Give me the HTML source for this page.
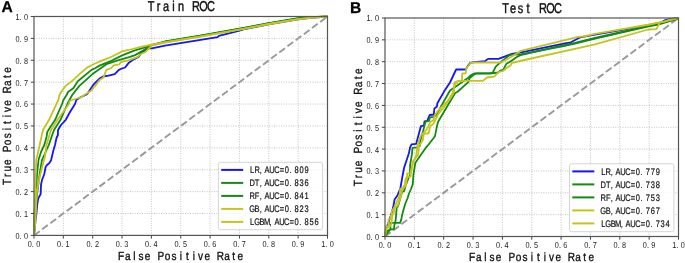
<!DOCTYPE html>
<html><head><meta charset="utf-8"><title>ROC</title>
<style>
html,body{margin:0;padding:0;background:#fff;}
body{width:685px;height:263px;overflow:hidden;}
svg{display:block;will-change:transform;text-rendering:geometricPrecision;font-family:"Liberation Sans", sans-serif;}
.grid{stroke:#b8b8b8;stroke-width:0.9;stroke-dasharray:0.9 1.5;}
.diag{stroke:#999;stroke-width:1.9;stroke-dasharray:7.1 3.1;}
.frame{fill:none;stroke:#555;stroke-width:1.2;}
.tick{stroke:#444;stroke-width:1.0;}
.leg{fill:#fff;fill-opacity:0.8;stroke:#d0d0d0;stroke-width:0.9;}
</style></head><body>
<svg width="685" height="263" viewBox="0 0 685 263">
<rect width="685" height="263" fill="#fff"/>
<line x1="63.35" y1="16.5" x2="63.35" y2="235.4" class="grid"/>
<line x1="34" y1="213.51" x2="327.5" y2="213.51" class="grid"/>
<line x1="92.7" y1="16.5" x2="92.7" y2="235.4" class="grid"/>
<line x1="34" y1="191.62" x2="327.5" y2="191.62" class="grid"/>
<line x1="122.05" y1="16.5" x2="122.05" y2="235.4" class="grid"/>
<line x1="34" y1="169.73" x2="327.5" y2="169.73" class="grid"/>
<line x1="151.4" y1="16.5" x2="151.4" y2="235.4" class="grid"/>
<line x1="34" y1="147.84" x2="327.5" y2="147.84" class="grid"/>
<line x1="180.75" y1="16.5" x2="180.75" y2="235.4" class="grid"/>
<line x1="34" y1="125.95" x2="327.5" y2="125.95" class="grid"/>
<line x1="210.1" y1="16.5" x2="210.1" y2="235.4" class="grid"/>
<line x1="34" y1="104.06" x2="327.5" y2="104.06" class="grid"/>
<line x1="239.45" y1="16.5" x2="239.45" y2="235.4" class="grid"/>
<line x1="34" y1="82.17" x2="327.5" y2="82.17" class="grid"/>
<line x1="268.8" y1="16.5" x2="268.8" y2="235.4" class="grid"/>
<line x1="34" y1="60.28" x2="327.5" y2="60.28" class="grid"/>
<line x1="298.15" y1="16.5" x2="298.15" y2="235.4" class="grid"/>
<line x1="34" y1="38.39" x2="327.5" y2="38.39" class="grid"/>
<line x1="34" y1="235.4" x2="327.5" y2="16.5" class="diag"/>
<polyline points="34,235.4 34.6,230 35.6,220 36.4,214 37.2,205 38,199.5 39,197 40.7,194 41,185 42,180 44.3,174 45.6,167 47,165 49.4,163 51.1,160.3 52.3,155 53.5,150 55,145 56.5,138 57.9,135 58,130 61,125 65.8,119.8 70,112 75,104 76.3,100 80,97.5 85.6,95 87.4,93.8 93.4,84.7 99.5,78.6 103,76.5 108.6,75.6 114.7,74.1 118.9,69.9 122,68.5 125.1,67.5 128.5,63.1 134.2,59.1 138.8,56.8 141.1,52.8 145.7,50.6 149.1,48.3 151.9,48.3 165,45.7 217.6,37.1 218.9,35.8 238.6,30.9 245,29 268.6,24.3 298.3,19.4 310.8,17.9 327.5,16.5" fill="none" stroke="#1515f5" stroke-width="1.8" stroke-linejoin="round" stroke-linecap="butt" />
<polyline points="34,235.4 35,215 37,195 39.5,175 42,160 48.8,145 52.2,135 54,130 60.5,119.8 67.4,104 69.5,100 72.2,95 79.4,85.9 93,73.7 95,72.2 106.4,64.2 117.8,60.3 130,56.9 135,55.1 139.5,52.6 145.2,49.3 150,45.5 160,43 165,41.7 200,35.9 245,27.9 268.6,23.3 298.3,18.4 310.8,17.3 327.5,16.5" fill="none" stroke="#138a13" stroke-width="1.8" stroke-linejoin="round" stroke-linecap="butt" />
<polyline points="34,235.4 34.5,215 35.5,195 37,175 38.5,160 41,152 44.3,145 46.5,137 47.3,132 51,126 55.2,119.8 62,104 63.4,100 66.6,95 68,92 73.3,88.2 77.8,81.3 91.5,69.9 95,68.2 100,65.4 111.4,60.8 122.8,55.1 134.2,50.6 145.7,47.1 150,45.3 165,41.5 200,35.7 245,27.7 268.6,23.1 298.3,18.2 310.8,17.2 327.5,16.5" fill="none" stroke="#138a13" stroke-width="1.8" stroke-linejoin="round" stroke-linecap="butt" />
<polyline points="34,235.4 34.8,228 35.6,218 36.2,205 36.6,195 37,190 38.3,184.2 40,175.7 42.2,167 44,160 44.6,158.6 46.5,145 49.4,135 51.1,130 57.5,119.8 68.9,104 69.6,101 75,99 81,97.3 85.4,94.2 91.5,90.4 97.6,82.8 99.6,80 103.5,77.4 106.4,69.9 111.4,68 113.7,65.4 119.4,64.3 121.1,62 128.5,60.3 137.7,56.8 141.1,54 145.7,51.7 151.9,45.5 165,42.5 200,36.7 245,28.7 268.6,24.1 298.3,19.2 310.8,17.8 327.5,16.5" fill="none" stroke="#c4c41e" stroke-width="1.8" stroke-linejoin="round" stroke-linecap="butt" />
<polyline points="34,235.4 34.5,215 35.2,195 35.6,175 36.3,160 39.7,145 41.8,135 43,130 49.1,119.8 56.4,104 58.3,100 59.5,95 61.1,92 65.7,85.9 71.7,81.3 81.6,72.2 87,67.6 94.6,63.8 100,61.4 111.4,56.8 122.8,51.1 128.5,50 140,47.1 150,44.8 165,42.4 200,36.6 245,28.6 268.6,24 298.3,19.1 310.8,17.7 327.5,16.5" fill="none" stroke="#c4c41e" stroke-width="1.8" stroke-linejoin="round" stroke-linecap="butt" />
<rect x="34" y="16.5" width="293.5" height="218.9" class="frame"/>
<line x1="30.8" y1="235.4" x2="34" y2="235.4" class="tick"/>
<line x1="34" y1="235.4" x2="34" y2="238.6" class="tick"/>
<text transform="scale(0.85,1)" x="20.56 24.21 30.56" y="238.8" font-size="8.6" font-weight="normal" fill="#222" text-anchor="middle" >0.0</text>
<text transform="scale(0.85,1)" x="35 38.65 45" y="247.3" font-size="8.6" font-weight="normal" fill="#222" text-anchor="middle" >0.0</text>
<line x1="30.8" y1="213.51" x2="34" y2="213.51" class="tick"/>
<line x1="63.35" y1="235.4" x2="63.35" y2="238.6" class="tick"/>
<text transform="scale(0.85,1)" x="20.56 24.21 30.56" y="216.91" font-size="8.6" font-weight="normal" fill="#222" text-anchor="middle" >0.1</text>
<text transform="scale(0.85,1)" x="69.53 73.18 79.53" y="247.3" font-size="8.6" font-weight="normal" fill="#222" text-anchor="middle" >0.1</text>
<line x1="30.8" y1="191.62" x2="34" y2="191.62" class="tick"/>
<line x1="92.7" y1="235.4" x2="92.7" y2="238.6" class="tick"/>
<text transform="scale(0.85,1)" x="20.56 24.21 30.56" y="195.02" font-size="8.6" font-weight="normal" fill="#222" text-anchor="middle" >0.2</text>
<text transform="scale(0.85,1)" x="104.06 107.71 114.06" y="247.3" font-size="8.6" font-weight="normal" fill="#222" text-anchor="middle" >0.2</text>
<line x1="30.8" y1="169.73" x2="34" y2="169.73" class="tick"/>
<line x1="122.05" y1="235.4" x2="122.05" y2="238.6" class="tick"/>
<text transform="scale(0.85,1)" x="20.56 24.21 30.56" y="173.13" font-size="8.6" font-weight="normal" fill="#222" text-anchor="middle" >0.3</text>
<text transform="scale(0.85,1)" x="138.59 142.24 148.59" y="247.3" font-size="8.6" font-weight="normal" fill="#222" text-anchor="middle" >0.3</text>
<line x1="30.8" y1="147.84" x2="34" y2="147.84" class="tick"/>
<line x1="151.4" y1="235.4" x2="151.4" y2="238.6" class="tick"/>
<text transform="scale(0.85,1)" x="20.56 24.21 30.56" y="151.24" font-size="8.6" font-weight="normal" fill="#222" text-anchor="middle" >0.4</text>
<text transform="scale(0.85,1)" x="173.12 176.77 183.12" y="247.3" font-size="8.6" font-weight="normal" fill="#222" text-anchor="middle" >0.4</text>
<line x1="30.8" y1="125.95" x2="34" y2="125.95" class="tick"/>
<line x1="180.75" y1="235.4" x2="180.75" y2="238.6" class="tick"/>
<text transform="scale(0.85,1)" x="20.56 24.21 30.56" y="129.35" font-size="8.6" font-weight="normal" fill="#222" text-anchor="middle" >0.5</text>
<text transform="scale(0.85,1)" x="207.65 211.3 217.65" y="247.3" font-size="8.6" font-weight="normal" fill="#222" text-anchor="middle" >0.5</text>
<line x1="30.8" y1="104.06" x2="34" y2="104.06" class="tick"/>
<line x1="210.1" y1="235.4" x2="210.1" y2="238.6" class="tick"/>
<text transform="scale(0.85,1)" x="20.56 24.21 30.56" y="107.46" font-size="8.6" font-weight="normal" fill="#222" text-anchor="middle" >0.6</text>
<text transform="scale(0.85,1)" x="242.18 245.83 252.18" y="247.3" font-size="8.6" font-weight="normal" fill="#222" text-anchor="middle" >0.6</text>
<line x1="30.8" y1="82.17" x2="34" y2="82.17" class="tick"/>
<line x1="239.45" y1="235.4" x2="239.45" y2="238.6" class="tick"/>
<text transform="scale(0.85,1)" x="20.56 24.21 30.56" y="85.57" font-size="8.6" font-weight="normal" fill="#222" text-anchor="middle" >0.7</text>
<text transform="scale(0.85,1)" x="276.71 280.36 286.71" y="247.3" font-size="8.6" font-weight="normal" fill="#222" text-anchor="middle" >0.7</text>
<line x1="30.8" y1="60.28" x2="34" y2="60.28" class="tick"/>
<line x1="268.8" y1="235.4" x2="268.8" y2="238.6" class="tick"/>
<text transform="scale(0.85,1)" x="20.56 24.21 30.56" y="63.68" font-size="8.6" font-weight="normal" fill="#222" text-anchor="middle" >0.8</text>
<text transform="scale(0.85,1)" x="311.24 314.89 321.24" y="247.3" font-size="8.6" font-weight="normal" fill="#222" text-anchor="middle" >0.8</text>
<line x1="30.8" y1="38.39" x2="34" y2="38.39" class="tick"/>
<line x1="298.15" y1="235.4" x2="298.15" y2="238.6" class="tick"/>
<text transform="scale(0.85,1)" x="20.56 24.21 30.56" y="41.79" font-size="8.6" font-weight="normal" fill="#222" text-anchor="middle" >0.9</text>
<text transform="scale(0.85,1)" x="345.76 349.41 355.76" y="247.3" font-size="8.6" font-weight="normal" fill="#222" text-anchor="middle" >0.9</text>
<line x1="30.8" y1="16.5" x2="34" y2="16.5" class="tick"/>
<line x1="327.5" y1="235.4" x2="327.5" y2="238.6" class="tick"/>
<text transform="scale(0.85,1)" x="20.56 24.21 30.56" y="19.9" font-size="8.6" font-weight="normal" fill="#222" text-anchor="middle" >1.0</text>
<text transform="scale(0.85,1)" x="380.29 383.94 390.29" y="247.3" font-size="8.6" font-weight="normal" fill="#222" text-anchor="middle" >1.0</text>
<text transform="scale(0.77,1)" x="196.26 205.96 215.66 225.36 235.06 254.47 264.17 273.87" y="11.2" font-size="14.2" font-weight="normal" fill="#111" text-anchor="middle"  stroke="#111" stroke-width="0.45">TrainROC</text>
<text transform="scale(0.85,1)" x="142.55 150.34 158.13 165.92 173.71 189.28 197.07 204.86 212.65 220.44 228.22 236.01 243.8 259.38 267.16 274.95 282.74" y="259.7" font-size="11.8" font-weight="normal" fill="#111" text-anchor="middle"  stroke="#111" stroke-width="0.35">FalsePositiveRate</text>
<g transform="translate(11,125.95) rotate(-90)"><text transform="scale(0.85,1)" x="-65.8 -58.06 -50.32 -42.58 -27.09 -19.35 -11.61 -3.87 3.87 11.61 19.35 27.09 42.58 50.32 58.06 65.8" y="0" font-size="11.8" font-weight="normal" fill="#111" text-anchor="middle"  stroke="#111" stroke-width="0.3">TruePositiveRate</text></g>
<text x="1.5" y="12.2" font-size="15.6" text-rendering="geometricPrecision" font-weight="bold" fill="#000" stroke="#000" stroke-width="0.25">A</text>
<rect x="218.4" y="162.3" width="104.2" height="67.4" rx="2" ry="2" class="leg"/>
<line x1="221.2" y1="169.9" x2="243.2" y2="169.9" stroke="#1515f5" stroke-width="2.0"/>
<text transform="scale(0.79,1)" x="319.21 325.47 330.05 338.01 344.27 350.54 356.8 363.07 367.64 375.6 381.87 388.13" y="173.3" font-size="9.5" font-weight="normal" fill="#111" text-anchor="middle"  stroke="#111" stroke-width="0.2">LR,AUC=0.809</text>
<line x1="221.2" y1="182.9" x2="243.2" y2="182.9" stroke="#138a13" stroke-width="2.0"/>
<text transform="scale(0.79,1)" x="319.21 325.47 330.05 338.01 344.27 350.54 356.8 363.07 367.64 375.6 381.87 388.13" y="186.3" font-size="9.5" font-weight="normal" fill="#111" text-anchor="middle"  stroke="#111" stroke-width="0.2">DT,AUC=0.836</text>
<line x1="221.2" y1="195.9" x2="243.2" y2="195.9" stroke="#138a13" stroke-width="2.0"/>
<text transform="scale(0.79,1)" x="319.21 325.47 330.05 338.01 344.27 350.54 356.8 363.07 367.64 375.6 381.87 388.13" y="199.3" font-size="9.5" font-weight="normal" fill="#111" text-anchor="middle"  stroke="#111" stroke-width="0.2">RF,AUC=0.841</text>
<line x1="221.2" y1="208.9" x2="243.2" y2="208.9" stroke="#c4c41e" stroke-width="2.0"/>
<text transform="scale(0.79,1)" x="319.21 325.47 330.05 338.01 344.27 350.54 356.8 363.07 367.64 375.6 381.87 388.13" y="212.3" font-size="9.5" font-weight="normal" fill="#111" text-anchor="middle"  stroke="#111" stroke-width="0.2">GB,AUC=0.823</text>
<line x1="221.2" y1="221.9" x2="243.2" y2="221.9" stroke="#c4c41e" stroke-width="2.0"/>
<text transform="scale(0.79,1)" x="319.21 325.47 331.74 338.01 342.58 350.54 356.8 363.07 369.34 375.6 380.18 388.13 394.4 400.66" y="225.3" font-size="9.5" font-weight="normal" fill="#111" text-anchor="middle"  stroke="#111" stroke-width="0.2">LGBM,AUC=0.856</text>
<line x1="414.35" y1="18" x2="414.35" y2="236.5" class="grid"/>
<line x1="385" y1="214.65" x2="678.5" y2="214.65" class="grid"/>
<line x1="443.7" y1="18" x2="443.7" y2="236.5" class="grid"/>
<line x1="385" y1="192.8" x2="678.5" y2="192.8" class="grid"/>
<line x1="473.05" y1="18" x2="473.05" y2="236.5" class="grid"/>
<line x1="385" y1="170.95" x2="678.5" y2="170.95" class="grid"/>
<line x1="502.4" y1="18" x2="502.4" y2="236.5" class="grid"/>
<line x1="385" y1="149.1" x2="678.5" y2="149.1" class="grid"/>
<line x1="531.75" y1="18" x2="531.75" y2="236.5" class="grid"/>
<line x1="385" y1="127.25" x2="678.5" y2="127.25" class="grid"/>
<line x1="561.1" y1="18" x2="561.1" y2="236.5" class="grid"/>
<line x1="385" y1="105.4" x2="678.5" y2="105.4" class="grid"/>
<line x1="590.45" y1="18" x2="590.45" y2="236.5" class="grid"/>
<line x1="385" y1="83.55" x2="678.5" y2="83.55" class="grid"/>
<line x1="619.8" y1="18" x2="619.8" y2="236.5" class="grid"/>
<line x1="385" y1="61.7" x2="678.5" y2="61.7" class="grid"/>
<line x1="649.15" y1="18" x2="649.15" y2="236.5" class="grid"/>
<line x1="385" y1="39.85" x2="678.5" y2="39.85" class="grid"/>
<line x1="385" y1="236.5" x2="678.5" y2="18" class="diag"/>
<polyline points="385,236.5 386,229 388,224 390,218 392,212 393.4,206 394.6,199.5 397.4,195.5 400.3,188.7 402.5,176 404.2,167.4 406.6,160.3 408.9,153.2 410.1,147.4 411.5,144.4 416.2,143.8 419.2,132.6 420.9,126.2 423.9,125.6 424.5,121.5 427.4,120.9 428.6,117.4 429.8,115 433.8,114.5 434.4,108.5 436.8,106.8 437.4,103.2 445,89.9 450,82.5 456.1,69.5 465.8,69.5 467.7,66.1 470.1,63 474,62.2 485,61.2 488,58.9 498.6,58.9 507.8,55.4 512,53.8 521.1,52.3 566.1,43.2 570.9,42.3 579.4,37.7 583,36.9 595,34.6 649.6,25 660.8,22.6 664.5,20.4 669.4,19.2 678.5,18" fill="none" stroke="#1515f5" stroke-width="1.8" stroke-linejoin="round" stroke-linecap="butt" />
<polyline points="385,236.5 385.5,233.5 387,231 390.4,229.5 390.4,222.9 400.1,222.9 401.3,219.4 402.4,213.7 404,208 405.5,203 407.5,198.5 409,193.5 411,189 412.8,184.1 413.4,175 415.4,162.7 426,147.4 427.4,146 435,136.2 436.8,126.8 438,122 441.5,116 448,105 455.2,93 457.3,92 465.8,84.4 468.5,82 469.5,78.3 474,74.5 477,73.3 490,73.5 498,72.5 500.2,70.6 503.2,69.9 506.3,63.8 509.3,62.3 516.9,56.9 520.6,55.2 563.6,45.2 575,42.8 595,38 649.6,25.6 657,24.3 677.5,18.5 678.5,18" fill="none" stroke="#138a13" stroke-width="1.8" stroke-linejoin="round" stroke-linecap="butt" />
<polyline points="385,236.5 389.9,229.7 393.9,229.1 394.4,225.1 395.6,220.6 396.1,214.9 396.7,208 398.1,206 402,192.1 404.2,191 405.4,186.4 408.8,177.3 410,175 410.1,165 411.9,154.4 412.5,147.9 416.6,147.4 419.8,146 420.4,140.3 423.3,130.3 425.1,123.3 425.6,121.5 429.2,120.9 429.8,117.4 433.9,116.8 436.2,115 450,90.5 458,85 465.8,79.5 468.3,77.7 470.1,75.8 474,73.4 490,73.2 492.6,72.9 495.6,66.8 498.6,63.8 509.3,55.4 512.3,54.6 520.6,54.3 563.6,46 575,43.6 595,38.6 649.6,26.2 657,24.9 677.5,18.9 678.5,18" fill="none" stroke="#138a13" stroke-width="1.8" stroke-linejoin="round" stroke-linecap="butt" />
<polyline points="385,236.5 385.3,235.4 385.9,226.3 388.4,226.3 388.6,219.4 390.4,219.4 390.6,216 391.6,216 391.8,211.4 393.9,208 395.2,206 396.3,203 399.7,195 400.3,188.7 403.1,188.7 403.7,185.8 404.8,185.3 405.4,179.6 407.1,176.1 407.2,173.3 410.7,173.3 412.5,162.7 414.8,159.2 416.2,155 418.1,143 420.9,135.4 426.6,129.7 430.4,122.1 433.3,120.2 435.2,114.5 438,110.7 443.7,105 450,99 454,92 454.3,82.5 457.3,81.3 462,81.3 462.2,73.4 465.8,73.4 466.2,68.5 470.7,63 474,62.4 490,62.5 500.9,62.6 510,57.5 518.4,52.4 520.7,50.8 578.2,36.8 583.1,36.5 595,33.9 649.6,24.5 660.8,22.1 664.5,21.7 669.4,19.8 677.5,18.3 678.5,18" fill="none" stroke="#c4c41e" stroke-width="1.8" stroke-linejoin="round" stroke-linecap="butt" />
<polyline points="385,236.5 385.9,230.3 388.5,227 390,226.3 391.6,223.1 392.1,216 393.9,212.6 394.4,208 397.5,206 401.4,195 402,189.8 406,185.3 407.1,177.3 410.5,176.7 411,173 413.6,160.3 418.1,155 419,145.9 422.8,140.2 423.8,133.5 428.5,133.5 430.4,125.9 433.3,124 435.2,120.2 438,114.5 445.6,105 452.6,93 454.8,84.7 457.1,81.6 458.6,80.9 483,80.9 486.9,77.5 494.1,76.7 498.6,72.1 503,71 506.3,68.3 510.8,65.3 511.6,63 522.3,60.5 595,44.4 648.3,29.5 656.4,29.1 660.1,22.1 664.5,21.4 677.5,18.2 678.5,18" fill="none" stroke="#c4c41e" stroke-width="1.8" stroke-linejoin="round" stroke-linecap="butt" />
<rect x="385" y="18" width="293.5" height="218.5" class="frame"/>
<line x1="381.8" y1="236.5" x2="385" y2="236.5" class="tick"/>
<line x1="385" y1="236.5" x2="385" y2="239.7" class="tick"/>
<text transform="scale(0.85,1)" x="433.5 437.15 443.5" y="239.9" font-size="8.6" font-weight="normal" fill="#222" text-anchor="middle" >0.0</text>
<text transform="scale(0.85,1)" x="447.94 451.59 457.94" y="248.3" font-size="8.6" font-weight="normal" fill="#222" text-anchor="middle" >0.0</text>
<line x1="381.8" y1="214.65" x2="385" y2="214.65" class="tick"/>
<line x1="414.35" y1="236.5" x2="414.35" y2="239.7" class="tick"/>
<text transform="scale(0.85,1)" x="433.5 437.15 443.5" y="218.05" font-size="8.6" font-weight="normal" fill="#222" text-anchor="middle" >0.1</text>
<text transform="scale(0.85,1)" x="482.47 486.12 492.47" y="248.3" font-size="8.6" font-weight="normal" fill="#222" text-anchor="middle" >0.1</text>
<line x1="381.8" y1="192.8" x2="385" y2="192.8" class="tick"/>
<line x1="443.7" y1="236.5" x2="443.7" y2="239.7" class="tick"/>
<text transform="scale(0.85,1)" x="433.5 437.15 443.5" y="196.2" font-size="8.6" font-weight="normal" fill="#222" text-anchor="middle" >0.2</text>
<text transform="scale(0.85,1)" x="517 520.65 527" y="248.3" font-size="8.6" font-weight="normal" fill="#222" text-anchor="middle" >0.2</text>
<line x1="381.8" y1="170.95" x2="385" y2="170.95" class="tick"/>
<line x1="473.05" y1="236.5" x2="473.05" y2="239.7" class="tick"/>
<text transform="scale(0.85,1)" x="433.5 437.15 443.5" y="174.35" font-size="8.6" font-weight="normal" fill="#222" text-anchor="middle" >0.3</text>
<text transform="scale(0.85,1)" x="551.53 555.18 561.53" y="248.3" font-size="8.6" font-weight="normal" fill="#222" text-anchor="middle" >0.3</text>
<line x1="381.8" y1="149.1" x2="385" y2="149.1" class="tick"/>
<line x1="502.4" y1="236.5" x2="502.4" y2="239.7" class="tick"/>
<text transform="scale(0.85,1)" x="433.5 437.15 443.5" y="152.5" font-size="8.6" font-weight="normal" fill="#222" text-anchor="middle" >0.4</text>
<text transform="scale(0.85,1)" x="586.06 589.71 596.06" y="248.3" font-size="8.6" font-weight="normal" fill="#222" text-anchor="middle" >0.4</text>
<line x1="381.8" y1="127.25" x2="385" y2="127.25" class="tick"/>
<line x1="531.75" y1="236.5" x2="531.75" y2="239.7" class="tick"/>
<text transform="scale(0.85,1)" x="433.5 437.15 443.5" y="130.65" font-size="8.6" font-weight="normal" fill="#222" text-anchor="middle" >0.5</text>
<text transform="scale(0.85,1)" x="620.59 624.24 630.59" y="248.3" font-size="8.6" font-weight="normal" fill="#222" text-anchor="middle" >0.5</text>
<line x1="381.8" y1="105.4" x2="385" y2="105.4" class="tick"/>
<line x1="561.1" y1="236.5" x2="561.1" y2="239.7" class="tick"/>
<text transform="scale(0.85,1)" x="433.5 437.15 443.5" y="108.8" font-size="8.6" font-weight="normal" fill="#222" text-anchor="middle" >0.6</text>
<text transform="scale(0.85,1)" x="655.12 658.77 665.12" y="248.3" font-size="8.6" font-weight="normal" fill="#222" text-anchor="middle" >0.6</text>
<line x1="381.8" y1="83.55" x2="385" y2="83.55" class="tick"/>
<line x1="590.45" y1="236.5" x2="590.45" y2="239.7" class="tick"/>
<text transform="scale(0.85,1)" x="433.5 437.15 443.5" y="86.95" font-size="8.6" font-weight="normal" fill="#222" text-anchor="middle" >0.7</text>
<text transform="scale(0.85,1)" x="689.65 693.3 699.65" y="248.3" font-size="8.6" font-weight="normal" fill="#222" text-anchor="middle" >0.7</text>
<line x1="381.8" y1="61.7" x2="385" y2="61.7" class="tick"/>
<line x1="619.8" y1="236.5" x2="619.8" y2="239.7" class="tick"/>
<text transform="scale(0.85,1)" x="433.5 437.15 443.5" y="65.1" font-size="8.6" font-weight="normal" fill="#222" text-anchor="middle" >0.8</text>
<text transform="scale(0.85,1)" x="724.18 727.83 734.18" y="248.3" font-size="8.6" font-weight="normal" fill="#222" text-anchor="middle" >0.8</text>
<line x1="381.8" y1="39.85" x2="385" y2="39.85" class="tick"/>
<line x1="649.15" y1="236.5" x2="649.15" y2="239.7" class="tick"/>
<text transform="scale(0.85,1)" x="433.5 437.15 443.5" y="43.25" font-size="8.6" font-weight="normal" fill="#222" text-anchor="middle" >0.9</text>
<text transform="scale(0.85,1)" x="758.71 762.36 768.71" y="248.3" font-size="8.6" font-weight="normal" fill="#222" text-anchor="middle" >0.9</text>
<line x1="381.8" y1="18" x2="385" y2="18" class="tick"/>
<line x1="678.5" y1="236.5" x2="678.5" y2="239.7" class="tick"/>
<text transform="scale(0.85,1)" x="433.5 437.15 443.5" y="21.4" font-size="8.6" font-weight="normal" fill="#222" text-anchor="middle" >1.0</text>
<text transform="scale(0.85,1)" x="793.24 796.89 803.24" y="248.3" font-size="8.6" font-weight="normal" fill="#222" text-anchor="middle" >1.0</text>
<text transform="scale(0.77,1)" x="656.63 666.33 676.03 685.73 705.14 714.84 724.54" y="12.6" font-size="14.2" font-weight="normal" fill="#111" text-anchor="middle"  stroke="#111" stroke-width="0.45">TestROC</text>
<text transform="scale(0.85,1)" x="555.49 563.28 571.07 578.86 586.65 602.22 610.01 617.8 625.59 633.38 641.16 648.95 656.74 672.32 680.11 687.89 695.68" y="261" font-size="11.8" font-weight="normal" fill="#111" text-anchor="middle"  stroke="#111" stroke-width="0.35">FalsePositiveRate</text>
<g transform="translate(362,127.25) rotate(-90)"><text transform="scale(0.85,1)" x="-65.8 -58.06 -50.32 -42.58 -27.09 -19.35 -11.61 -3.87 3.87 11.61 19.35 27.09 42.58 50.32 58.06 65.8" y="0" font-size="11.8" font-weight="normal" fill="#111" text-anchor="middle"  stroke="#111" stroke-width="0.3">TruePositiveRate</text></g>
<text x="349.9" y="12.9" font-size="15.6" text-rendering="geometricPrecision" font-weight="bold" fill="#000" stroke="#000" stroke-width="0.25">B</text>
<rect x="569.5" y="163.8" width="104.4" height="67.9" rx="2" ry="2" class="leg"/>
<line x1="572.3" y1="171.4" x2="594.3" y2="171.4" stroke="#1515f5" stroke-width="2.0"/>
<text transform="scale(0.79,1)" x="763.64 769.91 774.48 782.44 788.7 794.97 801.23 807.5 812.07 820.03 826.3 832.56" y="174.8" font-size="9.5" font-weight="normal" fill="#111" text-anchor="middle"  stroke="#111" stroke-width="0.2">LR,AUC=0.779</text>
<line x1="572.3" y1="184.4" x2="594.3" y2="184.4" stroke="#138a13" stroke-width="2.0"/>
<text transform="scale(0.79,1)" x="763.64 769.91 774.48 782.44 788.7 794.97 801.23 807.5 812.07 820.03 826.3 832.56" y="187.8" font-size="9.5" font-weight="normal" fill="#111" text-anchor="middle"  stroke="#111" stroke-width="0.2">DT,AUC=0.738</text>
<line x1="572.3" y1="197.4" x2="594.3" y2="197.4" stroke="#138a13" stroke-width="2.0"/>
<text transform="scale(0.79,1)" x="763.64 769.91 774.48 782.44 788.7 794.97 801.23 807.5 812.07 820.03 826.3 832.56" y="200.8" font-size="9.5" font-weight="normal" fill="#111" text-anchor="middle"  stroke="#111" stroke-width="0.2">RF,AUC=0.753</text>
<line x1="572.3" y1="210.4" x2="594.3" y2="210.4" stroke="#c4c41e" stroke-width="2.0"/>
<text transform="scale(0.79,1)" x="763.64 769.91 774.48 782.44 788.7 794.97 801.23 807.5 812.07 820.03 826.3 832.56" y="213.8" font-size="9.5" font-weight="normal" fill="#111" text-anchor="middle"  stroke="#111" stroke-width="0.2">GB,AUC=0.767</text>
<line x1="572.3" y1="223.4" x2="594.3" y2="223.4" stroke="#c4c41e" stroke-width="2.0"/>
<text transform="scale(0.79,1)" x="763.64 769.91 776.17 782.44 787.01 794.97 801.23 807.5 813.77 820.03 824.61 832.56 838.83 845.09" y="226.8" font-size="9.5" font-weight="normal" fill="#111" text-anchor="middle"  stroke="#111" stroke-width="0.2">LGBM,AUC=0.734</text>
</svg>
</body></html>
